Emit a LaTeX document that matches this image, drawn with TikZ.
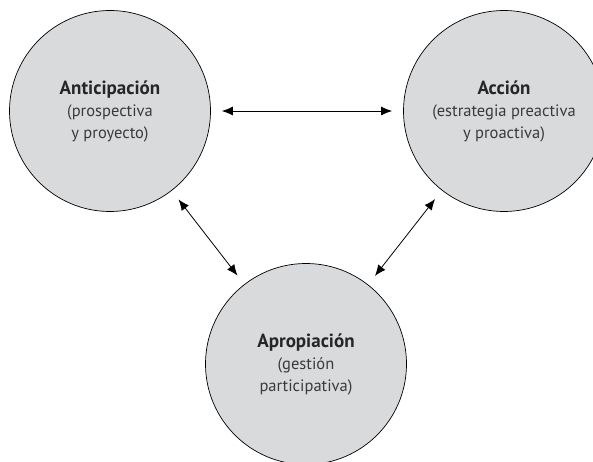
\documentclass[tikz,border=0pt]{standalone}
\usepackage{fontspec}
\setmainfont{PT Sans}
\usetikzlibrary{arrows.meta}
\definecolor{circlegray}{RGB}{217,218,220}
\definecolor{textgray}{RGB}{58,58,58}
\newcommand{\circtitle}[1]{{\fontsize{19pt}{23pt}\selectfont\bfseries\color{black!85}#1}}
\begin{document}
\begin{tikzpicture}[x=1pt,y=-1pt,
	every node/.style={draw,circle,fill=circlegray,minimum size=201pt,inner sep=0pt,line width=.7pt,
		align=center,text=textgray,font=\fontsize{16.5pt}{22pt}\selectfont},
	link/.style={{Latex[length=11pt,width=9pt]}-{Latex[length=11pt,width=9pt]},line width=.8pt,
		shorten <=11pt,shorten >=11pt}]
	\useasboundingbox (0,0) rectangle (593,462);
	\clip (0,0) rectangle (593,462);
	% \node (ant) at (110,112){};
	\node (ant) at (110,111){\circtitle{Anticipación}\\(prospectiva\\y proyecto)};
	\node (acc) at (504,111){\circtitle{Acción}\\(estrategia preactiva\\y proactiva)};
	\node (apr) at (306,364){\circtitle{Apropiación}\\(gestión\\participativa)};
	\draw[link] (ant)--(acc);
	\draw[link] (ant)--(apr);
	\draw[link] (acc)--(apr);
\end{tikzpicture}
\end{document}
